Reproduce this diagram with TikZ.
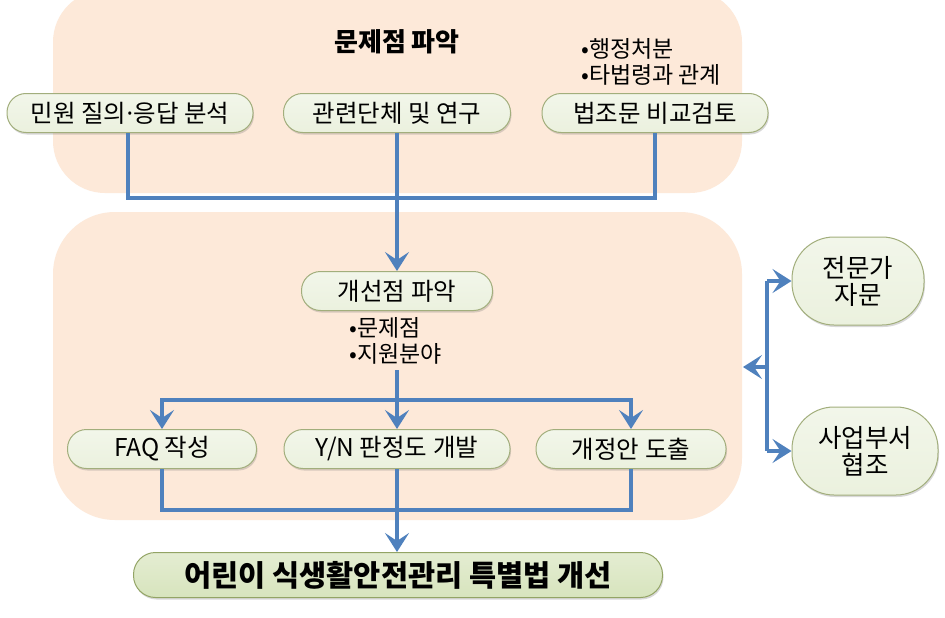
\documentclass[tikz,border=0pt]{standalone}
\usepackage{fontspec}
\setmainfont{Noto Sans CJK KR}
\usetikzlibrary{arrows.meta,shadows}
\definecolor{peach}{HTML}{FDE9D9}
\definecolor{conncol}{HTML}{4F81BD}
\definecolor{pillfill}{HTML}{EBF1DE}
\definecolor{pillfilltop}{HTML}{F2F6EA}
\definecolor{pillborder}{HTML}{A2AE7C}
\definecolor{finfill}{HTML}{D7E4BD}
\definecolor{finfilltop}{HTML}{E4EDD2}
\definecolor{finborder}{HTML}{93A465}
\newcommand{\mdot}{\makebox[0.3em][c]{·}}
\begin{document}
\begin{tikzpicture}[x=1pt,y=-1pt,
  panel/.style={fill=peach, draw=none},
  pill/.style={draw=pillborder, line width=1pt, top color=pillfilltop, bottom color=pillfill,
    rounded corners=19pt, minimum height=39pt, inner sep=0pt,
    font=\fontsize{24.5}{27}\selectfont,
    drop shadow={shadow xshift=1pt, shadow yshift=-2pt, opacity=0.25, fill=black!60}},
  oval/.style={pill, rounded corners=42pt, minimum height=88pt, align=center,
    font=\fontsize{25.5}{27}\selectfont},
  finbox/.style={pill, top color=finfilltop, bottom color=finfill, draw=finborder,
    rounded corners=22pt, minimum height=45pt, font=\fontsize{29.5}{32}\selectfont\bfseries},
  note/.style={font=\fontsize{23}{26.5}\selectfont, align=left, inner sep=0pt},
  conn/.style={draw=conncol, line width=3.5pt},
  arr/.style={conn, -{Stealth[length=19pt,width=24pt,inset=8pt]}}
]
\useasboundingbox (0,0) rectangle (945,618);
\fill[white] (0,0) rectangle (945,618);

% panels
\path[panel, rounded corners=52pt] (53,-10) rectangle (742,193);
\path[panel, rounded corners=62pt] (53,212) rectangle (742,520);

\node[font=\fontsize{26}{30}\selectfont\bfseries] (title) at (397,42) {문제점 파악};

% top row
\node[pill, minimum width=246pt] (n1) at (130,113) {민원 질의\mdot 응답 분석};
\node[pill, minimum width=227pt] (n2) at (397,113) {관련단체 및 연구};
\node[pill, minimum width=226pt] (n3) at (655,113) {법조문 비교검토};
\node[note, anchor=north west] (n3note) at (581,38) {•행정처분\\•타법령과 관계};

% middle
\node[pill, minimum width=191pt] (imp) at (397,291) {개선점 파악};
\node[note, anchor=north west] (impnote) at (349,317) {•문제점\\•지원분야};

\node[pill, minimum width=189pt] (f1) at (162,449) {FAQ 작성};
\node[pill, minimum width=226pt] (f2) at (397,449) {Y/N 판정도 개발};
\node[pill, minimum width=190pt] (f3) at (631,449) {개정안 도출};

\node[finbox, minimum width=529pt] (fin) at (398,575) {어린이 식생활안전관리 특별법 개선};

% right side
\node[oval, minimum width=132pt] (e1) at (858,281) {전문가\\자문};
\node[oval, minimum width=146pt] (e2) at (865,451) {사업부서\\협조};

% connectors top
\coordinate (topjoin) at (397,198);
\draw[conn] (n1.south -| 128,0) |- (topjoin -| n3.south) -- (n3.south);
\draw[arr] (n2.south) -- (imp.north);

% split
\coordinate (splitc) at (397,400);
\draw[conn] (397,370) coordinate (impnotebot) -- (splitc);
\draw[arr] (splitc) -| (f1.north);
\draw[arr] (splitc) -| (f3.north);
\draw[arr] (splitc) -- (f2.north);

% join
\coordinate (botjoin) at (397,510);
\draw[conn] (f1.south) |- (botjoin -| f3.south) -- (f3.south);
\draw[arr] (f2.south) -- (fin.north -| f2.south);

% right connectors
\coordinate (rv1) at (767,281);
\coordinate (rv2) at (767,451);
\coordinate (rmid) at (767,367);
\coordinate (rtgt) at (743,367);
\draw[conn] (rv1) -- (rv2);
\draw[arr] (rv1) -- (e1.west);
\draw[arr] (rv2) -- (e2.west);
\draw[arr] (rmid) -- (rtgt);
\end{tikzpicture}
\end{document}
